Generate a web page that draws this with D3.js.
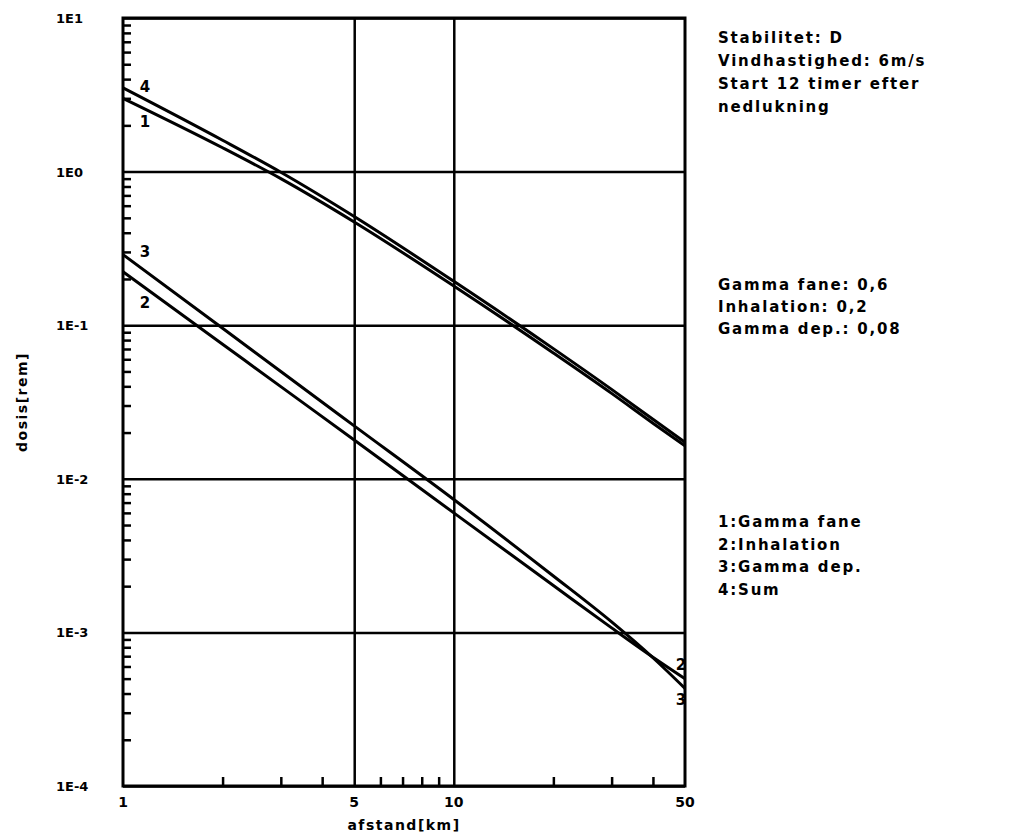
<!DOCTYPE html>
<html>
<head>
<meta charset="utf-8">
<script src="https://cdn.jsdelivr.net/npm/d3@7"></script>
<style>
  html, body { margin: 0; padding: 0; background: #fff; }
  svg text { font-family: "DejaVu Sans", sans-serif; font-weight: bold; fill: #000; }
</style>
</head>
<body>
<svg id="chart" width="1026" height="838"></svg>
<script>
// Distances along the plume axis [km]
const distances = [1, 2, 3, 5, 10, 20, 30, 40, 50];

// Dose contributions [rem] at each distance
const gammaFane  = [3.0, 1.43, 0.90, 0.47, 0.18, 0.066, 0.036, 0.023, 0.0164];
const inhalation = [0.223, 0.0752, 0.0398, 0.0179, 0.0060, 0.00202, 0.00107, 0.00069, 0.00050];
const gammaDep   = [0.288, 0.0955, 0.0499, 0.0221, 0.00733, 0.00233, 0.00117, 0.000684, 0.000432];
const sumDose    = [3.51, 1.60, 0.99, 0.51, 0.193, 0.0704, 0.0382, 0.0244, 0.0173];

// Axis ticks
const xMajorTicks = [1, 5, 10, 50];
const xTickLabels = ["1", "5", "10", "50"];
const xGridTicks  = [5, 10];
const xMinorTicks = [2, 3, 4, 6, 7, 8, 9, 20, 30, 40];
const yMajorTicks = [1e-4, 1e-3, 1e-2, 1e-1, 1e0, 1e1];
const yTickLabels = ["1E-4", "1E-3", "1E-2", "1E-1", "1E0", "1E1"];

// Annotation text
const conditionLines = ["Stabilitet: D", "Vindhastighed: 6m/s", "Start 12 timer efter", "nedlukning"];
const fractionLines  = ["Gamma fane: 0,6", "Inhalation: 0,2", "Gamma dep.: 0,08"];
const legendLines    = ["1:Gamma fane", "2:Inhalation", "3:Gamma dep.", "4:Sum"];

const svg = d3.select("#chart");
const plotLeft = 123, plotRight = 685, plotTop = 18, plotBottom = 786;

const x = d3.scaleLog().domain([1, 50]).range([plotLeft, plotRight]);
const y = d3.scaleLog().domain([1e-4, 10]).range([plotBottom, plotTop]);

// Horizontal grid at every decade
svg.append("g")
  .attr("transform", `translate(${plotLeft},0)`)
  .call(d3.axisLeft(y).tickValues(yMajorTicks).tickSize(-(plotRight - plotLeft)).tickFormat(""))
  .call(g => g.select(".domain").remove())
  .call(g => g.selectAll("line").attr("stroke", "#000").attr("stroke-width", 2.5));

// Vertical grid at 5 and 10 km
svg.append("g")
  .attr("transform", `translate(0,${plotBottom})`)
  .call(d3.axisBottom(x).tickValues(xGridTicks).tickSize(-(plotBottom - plotTop)).tickFormat(""))
  .call(g => g.select(".domain").remove())
  .call(g => g.selectAll("line").attr("stroke", "#000").attr("stroke-width", 2.5));

// Minor ticks on the left axis (2..9 in each decade)
const yMinorTicks = [];
for (let e = -4; e < 1; e++) {
  for (let m = 2; m <= 9; m++) yMinorTicks.push(m * Math.pow(10, e));
}
svg.append("g")
  .attr("transform", `translate(${plotLeft},0)`)
  .call(d3.axisLeft(y).tickValues(yMinorTicks).tickSize(-8).tickFormat(""))
  .call(g => g.select(".domain").remove())
  .call(g => g.selectAll("line").attr("stroke", "#000").attr("stroke-width", 2.5));

// Minor ticks on the bottom axis
svg.append("g")
  .attr("transform", `translate(0,${plotBottom})`)
  .call(d3.axisBottom(x).tickValues(xMinorTicks).tickSize(-9).tickFormat(""))
  .call(g => g.select(".domain").remove())
  .call(g => g.selectAll("line").attr("stroke", "#000").attr("stroke-width", 2.5));

// Frame
svg.append("rect")
  .attr("x", plotLeft).attr("y", plotTop)
  .attr("width", plotRight - plotLeft).attr("height", plotBottom - plotTop)
  .attr("fill", "none").attr("stroke", "#000").attr("stroke-width", 3);

// Tick labels
svg.append("g").selectAll("text")
  .data(yMajorTicks)
  .join("text")
  .attr("x", 56)
  .attr("y", d => y(d) + 5)
  .attr("font-size", 13)
  .text((d, i) => yTickLabels[i]);

svg.append("g").selectAll("text")
  .data(xMajorTicks)
  .join("text")
  .attr("x", d => x(d))
  .attr("y", plotBottom + 21)
  .attr("text-anchor", "middle")
  .attr("font-size", 14)
  .text((d, i) => xTickLabels[i]);

// Axis titles
svg.append("text")
  .attr("x", (plotLeft + plotRight) / 2)
  .attr("y", 830)
  .attr("text-anchor", "middle")
  .attr("font-size", 14)
  .attr("letter-spacing", 1.5)
  .text("afstand[km]");

svg.append("text")
  .attr("transform", `translate(27,${(plotTop + plotBottom) / 2}) rotate(-90)`)
  .attr("text-anchor", "middle")
  .attr("font-size", 14)
  .attr("letter-spacing", 1.5)
  .text("dosis[rem]");

// Dose curves
const series = [gammaFane, inhalation, gammaDep, sumDose];
const line = d3.line()
  .x((d, i) => x(distances[i]))
  .y(d => y(d))
  .curve(d3.curveMonotoneX);

svg.append("g")
  .attr("fill", "none")
  .attr("stroke", "#000")
  .attr("stroke-width", 3)
  .attr("stroke-linejoin", "round")
  .selectAll("path")
  .data(series)
  .join("path")
  .attr("d", line);

// Curve numbers
const curveLabels = [
  { t: "4", x: x(1) + 22, y: y(sumDose[0]) + 4 },
  { t: "1", x: x(1) + 22, y: y(gammaFane[0]) + 29 },
  { t: "3", x: x(1) + 22, y: y(gammaDep[0]) + 2 },
  { t: "2", x: x(1) + 22, y: y(inhalation[0]) + 36 },
  { t: "2", x: x(50) - 4, y: y(inhalation[8]) - 9 },
  { t: "3", x: x(50) - 4, y: y(gammaDep[8]) + 17 }
];
svg.append("g").selectAll("text")
  .data(curveLabels)
  .join("text")
  .attr("x", d => d.x)
  .attr("y", d => d.y)
  .attr("text-anchor", "middle")
  .attr("font-size", 15)
  .text(d => d.t);

// Side annotations
function textBlock(lines, x0, y0, step) {
  svg.append("g").selectAll("text")
    .data(lines)
    .join("text")
    .attr("x", x0)
    .attr("y", (d, i) => y0 + i * step)
    .attr("font-size", 15)
    .attr("letter-spacing", 1.8)
    .text(d => d);
}
textBlock(conditionLines, 718, 43, 23);
textBlock(fractionLines, 718, 290, 22);
textBlock(legendLines, 718, 527, 22.5);
</script>
</body>
</html>
